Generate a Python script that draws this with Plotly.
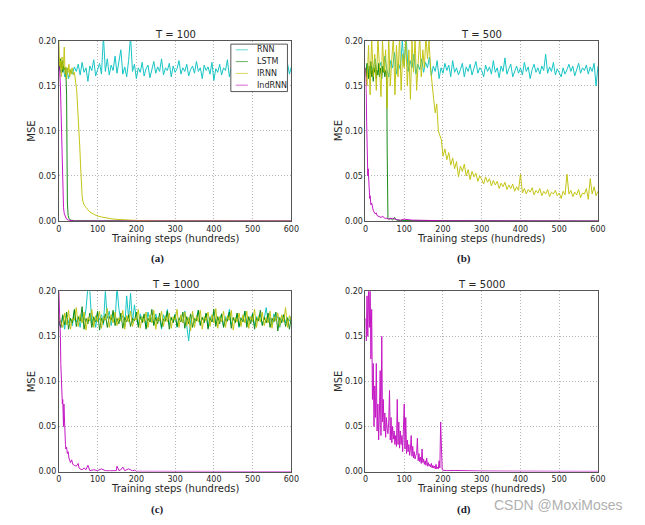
import plotly.graph_objects as go

# ---------------- data ----------------
steps5 = list(range(0, 601, 5))

# (a) T = 100
rnn_a = [.172,.165,.178,.160,.170,.158,.168,.163,.171,.166,
         .174,.162,.176,.165,.170,.155,.172,.167,.179,.161,
         .168,.175,.163,.205,.166,.180,.162,.173,.167,.183,
         .164,.176,.190,.163,.171,.160,.178,.205,.166,.174,
         .158,.170,.165,.176,.161,.169,.173,.159,.168,.177,
         .164,.171,.166,.180,.162,.170,.167,.175,.160,.172,
         .165,.169,.178,.163,.170,.166,.174,.161,.168,.172,
         .164,.177,.166,.170,.158,.173,.167,.171,.163,.176,
         .156,.169,.165,.174,.162,.170,.167,.179,.160,.171,
         .166,.173,.163,.169,.175,.161,.168,.172,.164,.170,
         .166,.176,.162,.169,.167,.173,.160,.171,.165,.169,
         .163,.174,.166,.170,.161,.172,.167,.164,.175,.163,
         .171]
lstm_a_x = [0,2,4,6,8,10,12,14,16,18,20,21,22,24,26,30,40,600]
lstm_a = [.175,.168,.180,.170,.177,.165,.172,.168,.170,.165,.140,.060,.020,.006,.003,.001,.0003,0]
irnn_a_x = [0,2,4,6,8,10,12,14,16,18,20,22,24,26,28,30,32,34,36,38,
            40,42,44,46,48,50,52,54,56,58,60,62,65,70,75,80,90,100,110,120,
            135,150,175,200,250,300,600]
irnn_a = [.200,.172,.178,.160,.182,.168,.175,.193,.163,.171,.158,.170,.165,.174,.160,.168,.163,.170,.166,.162,
          .165,.160,.152,.145,.132,.118,.100,.082,.062,.042,.028,.022,.018,.015,.012,.010,.0075,.0055,.0045,.0035,
          .0025,.0018,.001,.0006,.0003,.0001,0]
indrnn_a_x = [0,2,4,6,8,10,12,14,16,20,25,30,40,600]
indrnn_a = [.172,.168,.150,.110,.065,.030,.015,.008,.005,.002,.001,.0005,0,0]

# (b) T = 500
rnn_b = [.165,.175,.160,.172,.168,.180,.162,.170,.176,.165,
         .183,.168,.160,.178,.170,.187,.163,.175,.168,.200,
         .172,.205,.166,.178,.170,.185,.163,.174,.168,.180,
         .165,.176,.170,.182,.161,.172,.166,.178,.158,.170,
         .164,.175,.167,.173,.160,.178,.165,.170,.162,.168,
         .175,.160,.171,.166,.174,.162,.169,.177,.164,.170,
         .167,.160,.173,.166,.171,.163,.178,.165,.170,.159,
         .172,.166,.181,.163,.169,.174,.160,.167,.172,.164,
         .170,.162,.176,.166,.171,.158,.168,.174,.165,.170,
         .163,.172,.167,.185,.164,.171,.166,.176,.162,.169,
         .165,.160,.170,.163,.168,.174,.166,.172,.161,.169,
         .175,.164,.170,.167,.173,.163,.171,.166,.175,.150,
         .172]
lstm_b_x = list(range(0, 55, 2)) + [55,56,57,58,60,65,70,75,80,90,600]
lstm_b = [.170,.160,.175,.165,.158,.172,.163,.177,.160,.168,
          .155,.170,.165,.173,.158,.167,.162,.175,.160,.170,
          .164,.158,.172,.165,.169,.160,.167,.163,
          .160,.080,.006,.003,.002,.003,.001,.004,.001,.0005,0]
irnn_b_x = list(range(0, 201, 4)) + list(range(205, 601, 5))
irnn_b = [.170,.150,.195,.140,.205,.160,.185,.145,.205,.170,
          .138,.200,.165,.190,.125,.205,.150,.180,.205,.140,
          .195,.160,.205,.145,.185,.170,.205,.150,.190,.135,
          .200,.165,.205,.145,.185,.205,.160,.190,.170,.205,
          .180,.200,.170,.150,.135,.120,.130,.100,.095,.090,
          .072,
          .080,.068,.076,.062,.070,.058,.066,.049,.061,.055,
          .063,.050,.057,.046,.055,.049,.053,.044,.050,.046,
          .041,.049,.043,.047,.039,.045,.040,.044,.036,.042,
          .038,.043,.035,.040,.036,.041,.033,.038,.034,.052,
          .031,.036,.030,.035,.032,.037,.029,.034,.031,.036,
          .028,.033,.030,.035,.027,.032,.030,.034,.028,.031,
          .025,.033,.029,.052,.030,.034,.027,.032,.029,.035,
          .026,.031,.030,.036,.024,.047,.030,.038,.028,.033]
indrnn_b_x = [0,1,2,3,4,5,6,7,8,9,10,11,12,14,16,18,20,22,25,28,30,35,40,45,50,55,60,
              70,80,90,100,120,150,200,600]
indrnn_b = [.170,.160,.140,.110,.080,.060,.050,.058,.042,.048,.030,.025,.028,
            .018,.020,.014,.012,.010,.008,.009,.006,.005,.004,.005,.003,.003,.002,
            .003,.0015,.001,.002,.001,.0005,.0003,0]

# (c) T = 1000
rnn_c = [.165,.160,.172,.158,.175,.165,.170,.162,.178,.166,
         .171,.160,.175,.168,.180,.205,.200,.165,.172,.160,
         .176,.168,.174,.163,.200,.170,.178,.162,.175,.166,
         .205,.180,.168,.173,.161,.195,.170,.198,.165,.185,
         .170,.163,.175,.168,.172,.160,.177,.166,.171,.163,
         .175,.167,.170,.158,.174,.168,.180,.163,.171,.166,
         .175,.160,.169,.173,.165,.178,.162,.145,.168,.174,
         .165,.170,.179,.163,.171,.167,.175,.160,.172,.166,
         .177,.164,.170,.168,.175,.161,.172,.167,.180,.163,
         .170,.166,.174,.160,.171,.167,.178,.164,.170,.166,
         .176,.162,.172,.168,.174,.163,.170,.182,.166,.171,
         .163,.175,.168,.172,.160,.169,.174,.165,.171,.167,
         .173]
lstm_c = [.168,.160,.174,.163,.177,.158,.170,.165,.180,.161,
          .172,.167,.183,.158,.170,.164,.176,.160,.171,.166,
          .178,.157,.170,.165,.175,.160,.172,.168,.179,.162,
          .170,.164,.176,.159,.171,.166,.174,.161,.170,.167,
          .177,.160,.172,.165,.175,.158,.170,.166,.180,.162,
          .171,.164,.176,.160,.169,.167,.178,.158,.171,.165,
          .174,.161,.170,.166,.177,.159,.172,.164,.175,.160,
          .170,.167,.179,.162,.171,.165,.176,.158,.170,.166,
          .180,.161,.172,.164,.175,.160,.169,.167,.177,.159,
          .171,.165,.176,.161,.170,.166,.178,.160,.172,.164,
          .175,.158,.170,.167,.179,.162,.171,.165,.176,.160,
          .170,.166,.177,.156,.171,.165,.174,.161,.170,.158,
          .172]
irnn_c = [.172,.165,.160,.176,.163,.179,.158,.170,.168,.182,
          .161,.174,.165,.177,.157,.171,.167,.180,.160,.173,
          .166,.178,.159,.172,.168,.181,.160,.174,.165,.177,
          .162,.171,.167,.179,.158,.173,.166,.178,.161,.170,
          .168,.180,.159,.172,.166,.177,.160,.174,.165,.179,
          .158,.171,.167,.178,.161,.173,.166,.176,.159,.172,
          .168,.180,.160,.174,.165,.177,.162,.171,.156,.178,
          .160,.173,.166,.179,.158,.172,.167,.177,.161,.174,
          .165,.181,.159,.172,.166,.178,.160,.173,.168,.179,
          .157,.171,.166,.176,.161,.174,.165,.178,.159,.172,
          .167,.180,.160,.173,.166,.177,.162,.171,.165,.178,
          .159,.172,.167,.176,.161,.174,.166,.182,.160,.173,
          .168]
indrnn_c_x = [0,2,4,5,6,7,8,9,10,11,12,13,14,15,16,17,18,
              20,22,24,26,28,30,
              33,36,40,45,50,52,55,60,65,70,75,78,80,
              90,100,110,120,130,140,148,150,155,160,165,170,180,190,195,200,600]
indrnn_c = [.200,.180,.150,.120,.100,.090,.088,.075,.080,.060,.050,.075,.055,.040,.045,.030,.025,
            .027,.020,.022,.015,.012,.010,
            .013,.008,.007,.006,.009,.004,.003,.002,.004,.002,.007,.003,.001,
            .002,.001,.003,.001,.0008,.001,.001,.006,.001,.002,.005,.001,.003,.0008,.0015,.0003,0]

# (d) T = 5000
indrnn_d_x = list(range(0, 201, 2)) + [210,230,260,300,400,500,600]
indrnn_d = [.170,.145,.195,.150,.205,.160,.210,.125,.180,.080,
            .120,.050,.095,.060,.120,.045,.075,.035,.065,.112,
            .040,.150,.055,.080,.045,.065,.038,.060,.048,.042,
            .055,.090,.035,.060,.032,.050,.036,.045,.030,.040,
            .028,.080,.030,.055,.026,.045,.030,.040,.022,.050,
            .075,.025,.060,.020,.035,.022,.030,.018,.025,.040,
            .017,.028,.015,.022,.014,.018,.020,.037,.012,.020,
            .011,.016,.009,.025,.010,.014,.008,.012,.007,.015,
            .006,.010,.006,.008,.005,.009,.004,.007,.004,.006,
            .003,.008,.003,.005,.003,.012,.004,.055,.010,.002,
            .0015,
            .001,.0012,.0008,.0006,.0004,.0003,.0002]

series_names = ["RNN", "LSTM", "IRNN", "IndRNN"]
colors = {"RNN": "#00bfbf", "LSTM": "#008000", "IRNN": "#bfbf00", "IndRNN": "#bf00bf"}

panels = [
    dict(title="T = 100", caption="(a)", series=[
        ("RNN", steps5, rnn_a), ("LSTM", lstm_a_x, lstm_a),
        ("IRNN", irnn_a_x, irnn_a), ("IndRNN", indrnn_a_x, indrnn_a)]),
    dict(title="T = 500", caption="(b)", series=[
        ("RNN", steps5, rnn_b), ("LSTM", lstm_b_x, lstm_b),
        ("IRNN", irnn_b_x, irnn_b), ("IndRNN", indrnn_b_x, indrnn_b)]),
    dict(title="T = 1000", caption="(c)", series=[
        ("RNN", steps5, rnn_c), ("LSTM", steps5, lstm_c),
        ("IRNN", steps5, irnn_c), ("IndRNN", indrnn_c_x, indrnn_c)]),
    dict(title="T = 5000", caption="(d)", series=[
        ("IndRNN", indrnn_d_x, indrnn_d)]),
]

for p in panels:
    for nm, xs, ys in p["series"]:
        assert len(xs) == len(ys), (p["title"], nm, len(xs), len(ys))

# ---------------- layout helpers ----------------
# the page body has an 8px margin, so the figure sits at (8, 8) in the window
OFF = 8
W, H = 645 - OFF, 525 - OFF
def px(x):
    return (x - OFF) / W
def py(y):
    return 1 - (y - OFF) / H

left_cols = [(56.7, 293.3), (368.7, 605.3)]
rows = [(37.3, 220.7), (292.3, 475.7)]
cells = [(0, 0), (0, 1), (1, 0), (1, 1)]

fig = go.Figure()
annotations = []
shapes = []
layout_axes = {}
FONT = "DejaVu Sans"
TXT = "#262626"

for i, p in enumerate(panels):
    r, c = cells[i]
    x0, x1 = left_cols[c]
    y0, y1 = rows[r]
    sfx = "" if i == 0 else str(i + 1)
    xa, ya = "x" + sfx, "y" + sfx
    for nm, xs, ys in p["series"]:
        fig.add_trace(go.Scatter(
            x=xs, y=ys, mode="lines", name=nm,
            line=dict(color=colors[nm], width=1),
            opacity=0.9,
            xaxis=xa, yaxis=ya, showlegend=False))
    common = dict(showline=True, mirror=True, linecolor="#555555", linewidth=1,
                  showgrid=True, gridcolor="#b5b5b5", griddash="1px,2px", gridwidth=1,
                  zeroline=False, ticks="", tickfont=dict(family=FONT, size=8, color=TXT))
    layout_axes["xaxis" + sfx] = dict(common, domain=[px(x0), px(x1)], range=[0, 600],
                                      dtick=100, anchor=ya)
    layout_axes["yaxis" + sfx] = dict(common, domain=[py(y1), py(y0)], range=[0, 0.2],
                                      dtick=0.05, tickformat=".2f", anchor=xa)
    cx = (x0 + x1) / 2
    annotations.append(dict(text=p["title"], x=px(cx), y=py(y0 - 6.5), xref="paper", yref="paper",
                            showarrow=False, xanchor="center", yanchor="middle",
                            font=dict(family=FONT, size=10, color=TXT)))
    annotations.append(dict(text="Training steps (hundreds)", x=px(cx), y=py(y1 + 17.5),
                            xref="paper", yref="paper", showarrow=False,
                            xanchor="center", yanchor="middle",
                            font=dict(family=FONT, size=10, color=TXT)))
    annotations.append(dict(text="MSE", x=px(x0 - 27.5), y=py((y0 + y1) / 2),
                            xref="paper", yref="paper", showarrow=False, textangle=-90,
                            xanchor="center", yanchor="middle",
                            font=dict(family=FONT, size=10, color=TXT)))
    annotations.append(dict(text="<b>" + p["caption"] + "</b>", x=px(cx - 18), y=py(y1 + 38.5),
                            xref="paper", yref="paper", showarrow=False,
                            xanchor="center", yanchor="middle",
                            font=dict(family="Liberation Serif", size=11, color="#1a1a2e")))

# legend of panel (a), drawn as a framed key box
leg_box = (231.7, 40.7, 289.3, 89.0)
shapes.append(dict(type="rect", xref="paper", yref="paper",
                   x0=px(leg_box[0]), x1=px(leg_box[2]), y0=py(leg_box[3]), y1=py(leg_box[1]),
                   line=dict(color="#555555", width=1), fillcolor="white", layer="above"))
for k, nm in enumerate(series_names):
    yy = 46.5 + k * 12.0
    shapes.append(dict(type="line", xref="paper", yref="paper",
                       x0=px(236.7), x1=px(249.0), y0=py(yy), y1=py(yy),
                       line=dict(color=colors[nm], width=1), opacity=0.6, layer="above"))
    annotations.append(dict(text=nm, x=px(256.0), y=py(yy), xref="paper", yref="paper",
                            showarrow=False, xanchor="left", yanchor="middle",
                            font=dict(family=FONT, size=8, color=TXT)))

annotations.append(dict(text="CSDN @MoxiMoses", x=px(565), y=py(510), xref="paper", yref="paper",
                        showarrow=False, xanchor="center", yanchor="middle",
                        font=dict(family="Liberation Sans", size=14, color="#b0b0b0")))

fig.update_layout(
    width=W, height=H, margin=dict(l=0, r=0, t=0, b=0),
    paper_bgcolor="white", plot_bgcolor="white",
    annotations=annotations, shapes=shapes, showlegend=False,
    **layout_axes)

fig.write_html("out.html")
